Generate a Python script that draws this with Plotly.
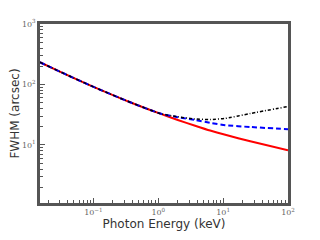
import plotly.graph_objects as go

energy = [0.015, 0.0316, 0.089, 0.368, 1.07, 2.0, 3.7, 6.3, 10.8, 26.2, 100.0]
fwhm_red = [233, 160, 96.6, 50.9, 32.9, 25.9, 20.8, 17.3, 14.7, 11.5, 8.2]
fwhm_blue = [233, 160, 96.6, 50.9, 33.1, 28.8, 25.9, 23.2, 21.2, 19.8, 18.2]
fwhm_black = [233, 160, 96.6, 50.9, 33.1, 29.2, 26.9, 26.3, 27.5, 33.1, 43.2]

x_tickvals = [0.1, 1, 10, 100]
x_ticktext = ["10<sup>−1</sup>", "10<sup>0</sup>", "10<sup>1</sup>", "10<sup>2</sup>"]
y_tickvals = [10, 100, 1000]
y_ticktext = ["10<sup>1</sup>", "10<sup>2</sup>", "10<sup>3</sup>"]

fig = go.Figure()
fig.add_trace(go.Scatter(x=energy, y=fwhm_red, mode="lines",
                         line=dict(color="red", width=2, shape="spline", smoothing=0.6)))
fig.add_trace(go.Scatter(x=energy, y=fwhm_blue, mode="lines",
                         line=dict(color="blue", width=2, dash="5px,3px", shape="spline", smoothing=0.6)))
fig.add_trace(go.Scatter(x=energy, y=fwhm_black, mode="lines",
                         line=dict(color="black", width=1.5, dash="3px,2px,1px,2px", shape="spline", smoothing=0.6)))

tick_font = dict(family="DejaVu Serif", size=8, color="#666666")
axis_common = dict(
    type="log", showgrid=False, zeroline=False, showline=True, linecolor="#555555", linewidth=2.5,
    mirror=True, ticks="inside", ticklen=5, tickwidth=1, tickcolor="#555555",
    tickfont=tick_font, automargin=False,
    minor=dict(ticks="inside", ticklen=3, tickwidth=1, tickcolor="#555555", dtick="D1", showgrid=False),
)
title_font = dict(family="DejaVu Sans", size=12, color="#333333")

fig.update_layout(
    width=320, height=240, margin=dict(l=32, r=40, t=16, b=45),
    plot_bgcolor="white", paper_bgcolor="white", showlegend=False,
    xaxis=dict(axis_common, range=[-1.823, 2], tickvals=x_tickvals, ticktext=x_ticktext,
               title=dict(text="Photon Energy (keV)", font=title_font, standoff=2)),
    yaxis=dict(axis_common, range=[0.04, 3], tickvals=y_tickvals, ticktext=y_ticktext,
               title=dict(text="FWHM (arcsec)", font=title_font, standoff=6)),
)
fig.write_html("out.html")
